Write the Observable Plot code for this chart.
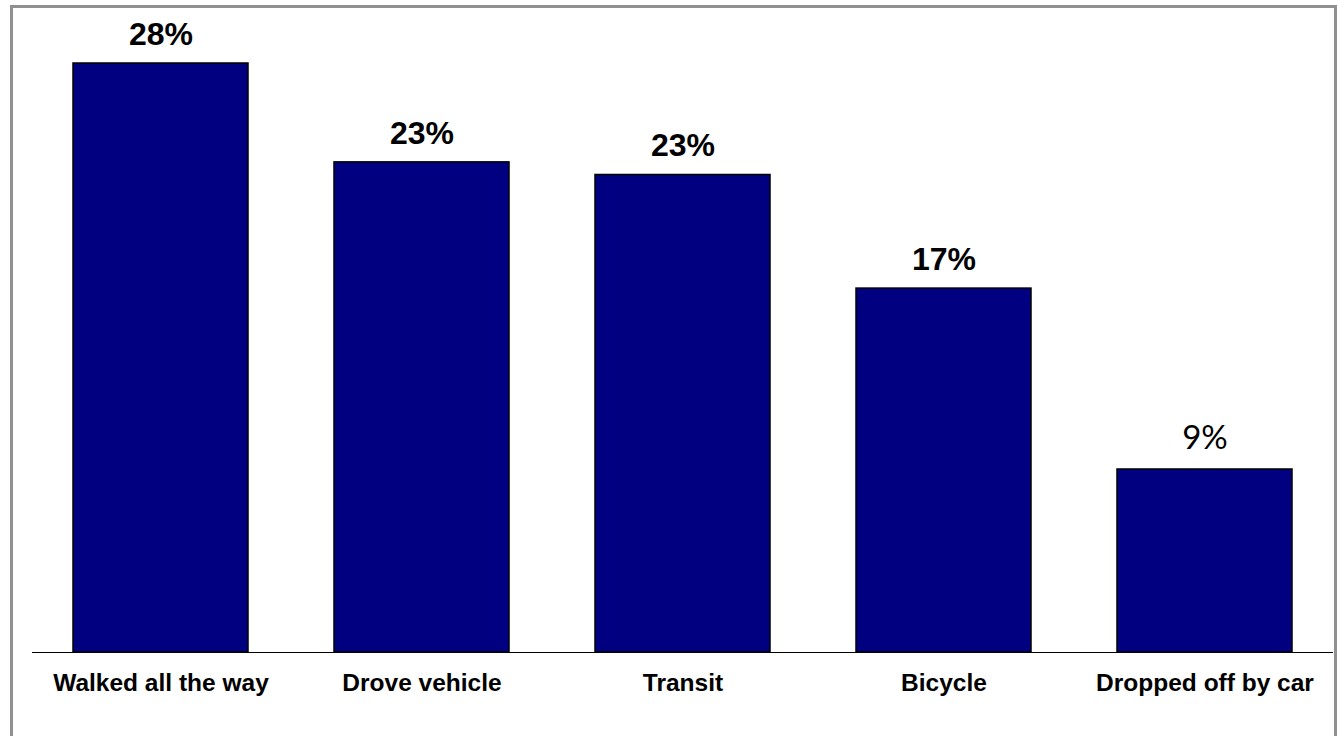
<!DOCTYPE html>
<html>
<head>
<meta charset="utf-8">
<script src="https://cdn.jsdelivr.net/npm/d3@7"></script>
<script src="https://cdn.jsdelivr.net/npm/@observablehq/plot@0.6"></script>
<style>
  html, body { margin: 0; padding: 0; background: #fff; overflow: hidden; width: 1338px; height: 736px; }
  #frame { position: absolute; left: 10px; top: 5px; width: 1321px; height: 800px; border: 3px solid #909090; box-sizing: content-box; pointer-events: none; }
  #chart { position: absolute; left: 0; top: 0; }
</style>
</head>
<body>
<div id="chart"></div>
<div id="frame"></div>
<script>
const categories = ["Walked all the way", "Drove vehicle", "Transit", "Bicycle", "Dropped off by car"];
const values = [28, 23.3, 22.7, 17.3, 8.7];
const valueLabels = ["28%", "23%", "23%", "17%", "9%"];
const boldValueLabel = [true, true, true, true, false];

const rows = categories.map((c, i) => ({cat: c, value: values[i], label: valueLabels[i], bold: boldValueLabel[i]}));

const chart = Plot.plot({
  width: 1338,
  height: 736,
  marginTop: 63,
  marginBottom: 84,
  marginLeft: 32,
  marginRight: 5,
  style: {background: "transparent", color: "#000"},
  x: {domain: categories, paddingInner: 0.33, paddingOuter: 0.157, axis: null},
  y: {domain: [0, 28], axis: null},
  marks: [
    Plot.barY(rows, {x: "cat", y: "value", fill: "#000080", stroke: "#000", strokeWidth: 1.5}),
    Plot.ruleY([0], {stroke: "#000", strokeWidth: 1}),
    Plot.text(rows.filter(d => d.bold), {x: "cat", y: "value", text: "label", dy: -29, lineAnchor: "middle",
      fontFamily: "Liberation Sans, Arial, sans-serif", fontWeight: "bold", fontSize: 32, fill: "#000"}),
    Plot.text(rows.filter(d => !d.bold), {x: "cat", y: "value", text: "label", dy: -31, lineAnchor: "middle",
      fontFamily: "Lato, 'Open Sans', sans-serif", fontWeight: "normal", fontSize: 33, fill: "#000"}),
    Plot.text(rows, {x: "cat", y: () => 0, text: "cat", dy: 31, lineAnchor: "middle",
      fontFamily: "Liberation Sans, Arial, sans-serif", fontWeight: "bold", fontSize: 24.5, fill: "#000"})
  ]
});
document.getElementById("chart").appendChild(chart);
</script>
</body>
</html>
